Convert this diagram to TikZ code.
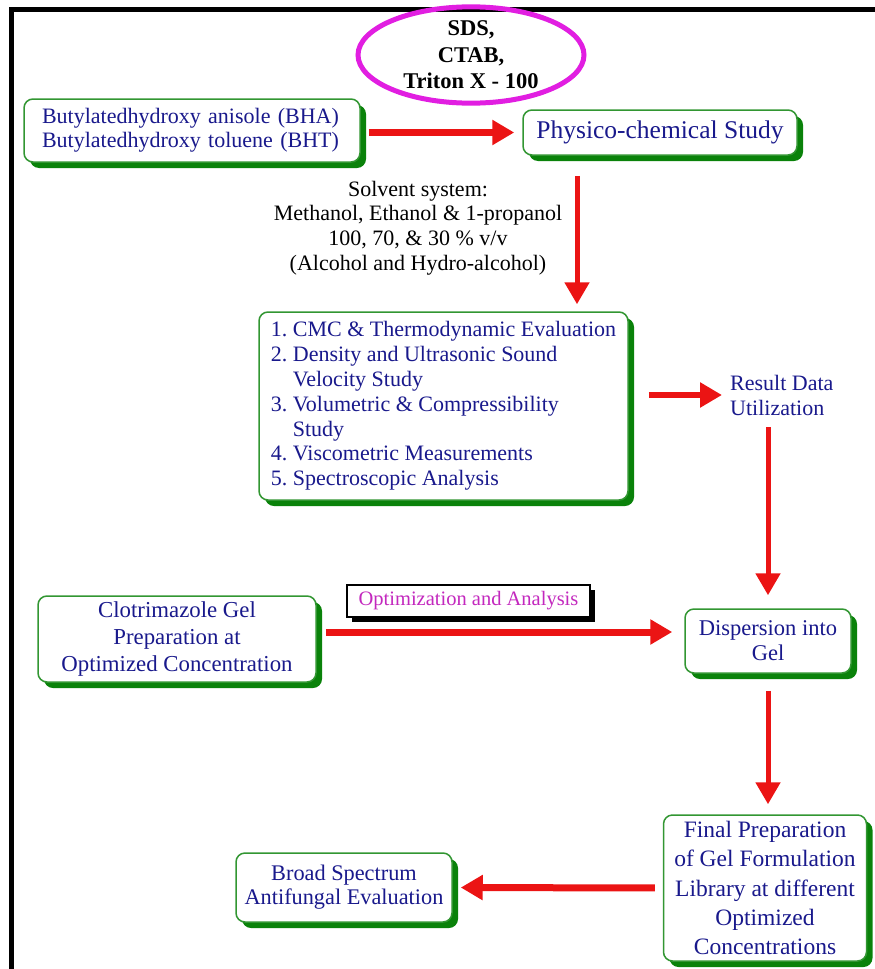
\documentclass[tikz,border=0pt]{standalone}
\usepackage{fontspec}
\setmainfont{Liberation Serif}
\usetikzlibrary{arrows.meta,shadows,calc,shapes.geometric}
\definecolor{navy}{RGB}{25,25,140}
\definecolor{boxgreen}{RGB}{50,150,50}
\definecolor{shadowgreen}{RGB}{10,130,10}
\definecolor{arrred}{RGB}{235,20,20}
\definecolor{ellmag}{RGB}{225,30,225}
\definecolor{optmag}{RGB}{195,40,190}
\begin{document}
\frenchspacing
\begin{tikzpicture}[x=1pt,y=-1pt,
  gbox/.style={draw=boxgreen, line width=1.5pt, fill=white, rounded corners=9pt,
    text=navy, align=center, inner sep=0pt,
    drop shadow={shadow xshift=6pt, shadow yshift=-6pt, fill=shadowgreen, opacity=1}},
  arr/.style={draw=arrred, line width=6pt, -{Triangle[length=22pt,width=24pt]}},
  plain/.style={inner sep=0pt, align=center},
]
\useasboundingbox (0,0) rectangle (875,969);
% frame
\draw[line width=5pt] (11.5,969) -- (11.5,9.5) -- (875,9.5);

% ellipse
\node[draw=ellmag, line width=5pt, ellipse, minimum width=226pt, minimum height=90pt,
  inner sep=0pt, align=center, font=\bfseries\fontsize{22.5}{26.5}\selectfont]
  (surf) at (471,55) {SDS,\\CTAB,\\Triton X - 100};

% boxes
\node[gbox, minimum width=336pt, minimum height=63pt, align=left, text width=300pt,
  inner xsep=18pt, font=\fontsize{22}{24}\selectfont] (bha) at (192,130.5)
  {Butylatedhydroxy anisole (BHA)\\Butylatedhydroxy toluene (BHT)};
\node[gbox, minimum width=274pt, minimum height=45pt, font=\fontsize{25.5}{28}\selectfont]
  (phys) at (660,132.5) {Physico-chemical Study};
\node[plain, font=\fontsize{22}{24.6}\selectfont] (solv) at (418,228)
  {Solvent system:\\Methanol, Ethanol \& 1-propanol\\100, 70, \& 30 \% v/v\\(Alcohol and Hydro-alcohol)};
\node[gbox, minimum width=369pt, minimum height=188pt, align=left,
  font=\fontsize{22}{24.8}\selectfont] (list) at (443.5,406)
  {1. CMC \& Thermodynamic Evaluation\\
   2. Density and Ultrasonic Sound\\
   \hphantom{2.~}Velocity Study\\
   3. Volumetric \& Compressibility\\
   \hphantom{3.~}Study\\
   4. Viscometric Measurements\\
   5. Spectroscopic Analysis};
\node[plain, align=left, anchor=west, text=navy, font=\fontsize{22}{25}\selectfont]
  (res) at (730,395) {Result Data\\Utilization};
\node[gbox, minimum width=278pt, minimum height=86pt, font=\fontsize{22.8}{27}\selectfont]
  (clot) at (177,639) {Clotrimazole Gel\\Preparation at\\Optimized Concentration};
\node[draw=black, line width=1.2pt, fill=white, minimum width=243pt, minimum height=32pt,
  inner sep=0pt, text=optmag, font=\fontsize{20.5}{24}\selectfont,
  drop shadow={shadow xshift=5pt, shadow yshift=-5pt, fill=black, opacity=1}]
  (opt) at (468.5,601) {Optimization and Analysis};
\node[gbox, minimum width=166pt, minimum height=64pt, font=\fontsize{22.5}{25}\selectfont]
  (disp) at (768,641) {Dispersion into\\Gel};
\node[gbox, minimum width=203pt, minimum height=146pt, font=\fontsize{23.5}{29.2}\selectfont]
  (final) at (765,888) {Final Preparation\\of Gel Formulation\\Library at different\\Optimized\\Concentrations};
\node[gbox, minimum width=216pt, minimum height=69pt, font=\fontsize{22.3}{24}\selectfont]
  (broad) at (344,887.5) {Broad Spectrum\\Antifungal Evaluation};

% arrows
\coordinate (ax1) at (577,0);
\coordinate (ax2) at (768,0);
\coordinate (ay1) at (0,632);
\draw[arr, line width=7pt, shorten <=8pt, shorten >=8pt] (bha.east |- phys.west) -- (phys.west);
\draw[arr, line width=5pt, shorten <=20pt, shorten >=7pt] (ax1 |- phys.south) -- (ax1 |- list.north);
\draw[arr, line width=6pt, shorten <=20pt, shorten >=8pt] (list.east |- res.west) -- (res.west);
\draw[arr, line width=5pt, shorten <=12pt, shorten >=13pt] (ax2 |- res.south) -- (ax2 |- disp.north);
\draw[arr, line width=7pt, shorten <=9pt, shorten >=12pt] (clot.east |- ay1) -- (disp.west |- ay1);
\draw[arr, line width=5pt, shorten <=17pt, shorten >=10pt] (ax2 |- disp.south) -- (ax2 |- final.north);
\draw[arr, line width=7pt, shorten <=8pt, shorten >=8pt] (final.west) -- (broad.east);
\end{tikzpicture}
\end{document}
